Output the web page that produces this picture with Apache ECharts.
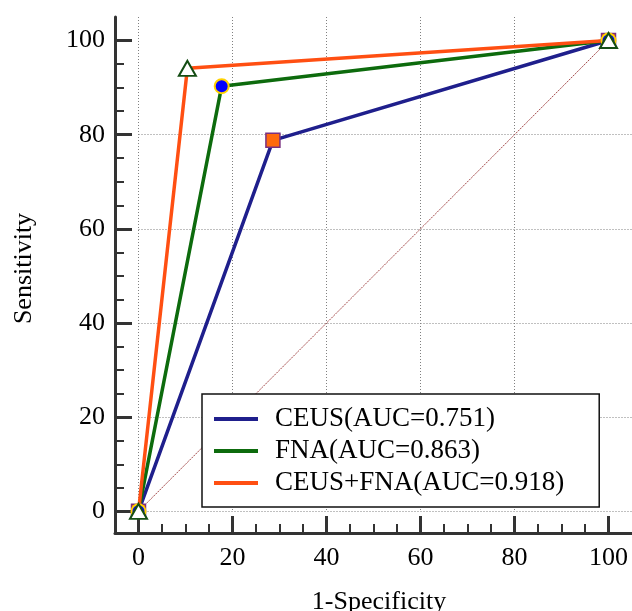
<!DOCTYPE html>
<html>
<head>
<meta charset="utf-8">
<script src="https://cdn.jsdelivr.net/npm/echarts@6/dist/echarts.min.js"></script>
<style>
html, body { margin: 0; padding: 0; background: #fff; }
#roc { width: 632px; height: 611px; }
</style>
</head>
<body>
<div id="roc"></div>
<script>
// ROC points, x = 1-specificity (%), y = sensitivity (%)
const ceusX = [0, 28.6, 100];
const ceusY = [0, 78.8, 100];
const fnaX = [0, 17.7, 100];
const fnaY = [0, 90.3, 100];
const comboX = [0, 10.4, 100];
const comboY = [0, 94.1, 100];
const diagX = [0, 100];
const diagY = [0, 100];

const seriesNames = ['CEUS(AUC=0.751)', 'FNA(AUC=0.863)', 'CEUS+FNA(AUC=0.918)'];
const majorTicks = [0, 20, 40, 60, 80, 100];
const minorTicks = [0, 5, 10, 15, 20, 25, 30, 35, 40, 45, 50, 55, 60, 65, 70, 75, 80, 85, 90, 95, 100];

const lineColors = ['#1f1f8c', '#0d6b0d', '#ff4f12'];
const serif = 'Liberation Serif';

function pairs(xs, ys) {
    return xs.map((x, i) => [x, ys[i]]);
}

const axisColor = '#333';
const nameStyle = { fontFamily: serif, fontSize: 26, color: '#000' };
const labelStyle = { fontFamily: serif, fontSize: 26, color: '#000' };
const gridLine = { show: true, showMaxLine: false, lineStyle: { color: '#808080', width: 1, type: [1, 2] } };

const myChart = echarts.init(document.getElementById('roc'));

const option = {
    animation: false,
    backgroundColor: '#fff',
    // grid 0 carries the axis lines (range -5..105), grid 1 the labelled 0..105 part
    grid: [
        { left: 115, right: 0, top: 17, bottom: 78, outerBoundsMode: 'none' },
        { left: 138.5, right: 0, top: 17, bottom: 99.7, outerBoundsMode: 'none' }
    ],
    xAxis: [
        {
            gridIndex: 0, type: 'value', min: -5, max: 105,
            axisLine: { show: true, onZero: false, lineStyle: { color: axisColor, width: 3 } },
            axisTick: { show: true, inside: true, length: 9, customValues: minorTicks, lineStyle: { color: axisColor, width: 2 } },
            axisLabel: { show: false },
            splitLine: { show: false },
            name: '1-Specificity', nameLocation: 'middle', nameGap: 56,
            nameTextStyle: Object.assign({ padding: [0, 0, 0, 11] }, nameStyle)
        },
        {
            gridIndex: 1, type: 'value', min: 0, max: 105, interval: 20, offset: 21.7,
            axisLine: { show: false, onZero: false },
            axisTick: { show: true, inside: true, length: 17, customValues: majorTicks, lineStyle: { color: axisColor, width: 3 } },
            axisLabel: Object.assign({ customValues: majorTicks, margin: 12 }, labelStyle),
            splitLine: gridLine
        }
    ],
    yAxis: [
        {
            gridIndex: 0, type: 'value', min: -4.6, max: 105,
            axisLine: { show: true, onZero: false, lineStyle: { color: axisColor, width: 3 } },
            axisTick: { show: true, inside: true, length: 9, customValues: minorTicks, lineStyle: { color: axisColor, width: 2 } },
            axisLabel: { show: false },
            splitLine: { show: false },
            name: 'Sensitivity', nameLocation: 'middle', nameGap: 78,
            nameTextStyle: Object.assign({ padding: [0, 0, 0, 13] }, nameStyle)
        },
        {
            gridIndex: 1, type: 'value', min: 0, max: 105, interval: 20, offset: 23.5,
            axisLine: { show: false, onZero: false },
            axisTick: { show: true, inside: true, length: 17, customValues: majorTicks, lineStyle: { color: axisColor, width: 3 } },
            axisLabel: Object.assign({ customValues: majorTicks, margin: 10 }, labelStyle),
            splitLine: gridLine
        }
    ],
    legend: {
        orient: 'vertical',
        left: 202,
        top: 394,
        padding: [11.5, 35, 10.5, 12],
        itemGap: 5,
        itemWidth: 44,
        itemHeight: 4,
        backgroundColor: '#fff',
        borderColor: '#111',
        borderWidth: 1.5,
        selectedMode: false,
        textStyle: { fontFamily: serif, fontSize: 27, color: '#000', padding: [0, 0, 0, 12] },
        data: seriesNames.map((n, i) => ({ name: n, icon: 'rect', itemStyle: { color: lineColors[i], borderWidth: 0 } }))
    },
    series: [
        {
            name: 'diagonal', type: 'line', xAxisIndex: 0, yAxisIndex: 0,
            data: pairs(diagX, diagY), symbol: 'none', silent: true, z: 1,
            lineStyle: { color: '#a34848', width: 1, type: [2, 1] }
        },
        {
            name: seriesNames[0], type: 'line', xAxisIndex: 0, yAxisIndex: 0,
            data: pairs(ceusX, ceusY),
            symbol: 'rect', symbolSize: 14,
            lineStyle: { color: lineColors[0], width: 3.5 },
            itemStyle: { color: '#ff6a0d', borderColor: '#7a3080', borderWidth: 1.5 },
            emphasis: { disabled: true }
        },
        {
            name: seriesNames[1], type: 'line', xAxisIndex: 0, yAxisIndex: 0,
            data: pairs(fnaX, fnaY),
            symbol: 'circle', symbolSize: 14,
            lineStyle: { color: lineColors[1], width: 3.5 },
            itemStyle: { color: '#0000ff', borderColor: '#ffd200', borderWidth: 2 },
            emphasis: { disabled: true }
        },
        {
            name: seriesNames[2], type: 'line', xAxisIndex: 0, yAxisIndex: 0,
            data: pairs(comboX, comboY),
            symbol: 'triangle', symbolSize: [17, 15],
            lineStyle: { color: lineColors[2], width: 3.5 },
            itemStyle: { color: '#fff', borderColor: '#144d14', borderWidth: 2 },
            emphasis: { disabled: true }
        }
    ]
};

myChart.setOption(option, true);
window.addEventListener('resize', function () {
    myChart.resize();
});
</script>
</body>
</html>
